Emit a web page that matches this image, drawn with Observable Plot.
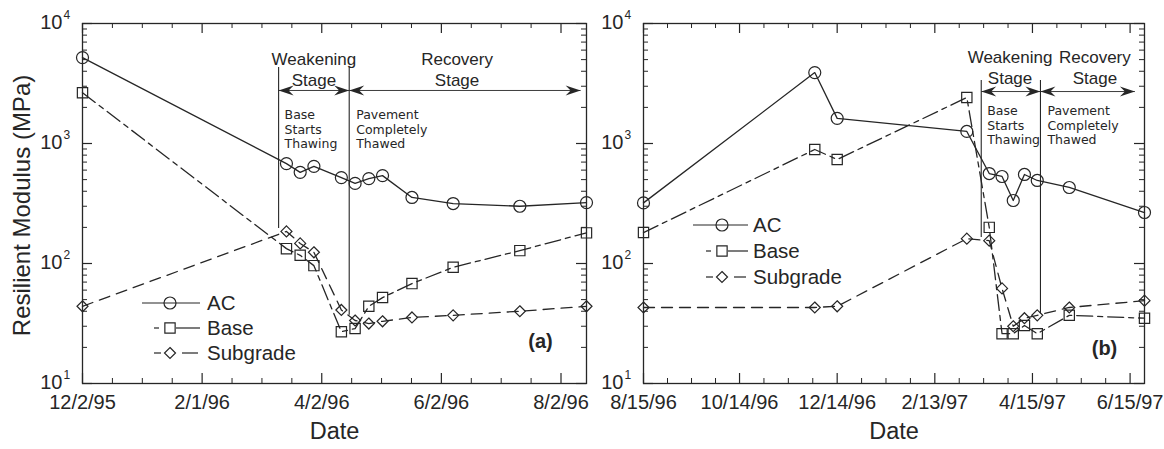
<!DOCTYPE html>
<html><head><meta charset="utf-8">
<script src="https://cdn.jsdelivr.net/npm/d3@7"></script>
<script src="https://cdn.jsdelivr.net/npm/@observablehq/plot@0.6"></script>
<style>
body{margin:0;background:#fff;}
#wrap{display:flex;width:1164px;height:449px;background:#fff;}
#wrap svg{overflow:visible;}
</style></head><body><div id="wrap"></div>
<script>
// ---------- data: panel (a) ----------
const datesA = ["1995-12-02","1996-03-15","1996-03-22","1996-03-29","1996-04-12","1996-04-19","1996-04-26","1996-05-03","1996-05-18","1996-06-08","1996-07-12","1996-08-15"];
const acA   = [5200, 680, 575, 645, 520, 465, 510, 540, 355, 316, 300, 322];
const baseA = [2650, 133, 117, 96, 27, 28.7, 44, 52, 68, 93, 128, 180];
const subA  = [44, 185, 147, 124, 41, 33.5, 31.6, 33, 35.5, 37, 40, 44];
const domainA = ["1995-12-02","1996-08-15"];
const xTicksA = ["12/2/95","2/1/96","4/2/96","6/2/96","8/2/96"];
const stageLinesA = [{date:"1996-03-11", y1:196, y2:4300},{date:"1996-04-16", y1:37, y2:4300}];
const arrowsA = [{from:"1996-03-11", to:"1996-04-16", v:2766},{from:"1996-04-16", to:"1996-08-12", v:2766}];
const stageTextA = [{date:"1996-03-29", t1:"Weakening", t2:"Stage"},{date:"1996-06-10", t1:"Recovery", t2:"Stage"}];

// ---------- data: panel (b) ----------
const datesB = ["1996-08-15","1996-11-30","1996-12-14","1997-03-05","1997-03-19","1997-03-27","1997-04-03","1997-04-10","1997-04-18","1997-05-08","1997-06-24"];
const acB   = [320, 3900, 1620, 1260, 562, 531, 335, 552, 492, 430, 266];
const baseB = [181, 891, 736, 2416, 200, 26, 26, 30.4, 26, 37, 35];
const subB  = [43, 43, 44, 161, 155, 62, 30, 35, 37, 43, 49];
const domainB = ["1996-08-15","1997-06-24"];
const xTicksB = ["8/15/96","10/14/96","12/14/96","2/13/97","4/15/97","6/15/97"];
const stageLinesB = [{date:"1997-03-14", y1:165, y2:3350},{date:"1997-04-20", y1:38, y2:3350}];
const arrowsB = [{from:"1997-03-14", to:"1997-04-20", v:2710},{from:"1997-04-20", to:"1997-06-18", v:2710}];
const stageTextB = [{date:"1997-04-01", t1:"Weakening", t2:"Stage"},{date:"1997-05-24", t1:"Recovery", t2:"Stage"}];

// ---------- shared ----------
const yDecades = [1, 2, 3, 4];
const seriesNames = ["AC", "Base", "Subgrade"];
const noteLeft = "Base\nStarts\nThawing";
const noteRight = "Pavement\nCompletely\nThawed";
const yTitle = "Resilient Modulus (MPa)";
const xTitle = "Date";

const INK = "#262626";
const FONT = "'Liberation Sans', Arial, Helvetica, sans-serif";
const parseTick = d3.utcParse("%m/%d/%y");
const parseISO = d => new Date(d + "T00:00:00Z");

const diamondSym = {draw(ctx, size){ const r = Math.sqrt(size/Math.PI); ctx.moveTo(0,-r); ctx.lineTo(r,0); ctx.lineTo(0,r); ctx.lineTo(-r,0); ctx.closePath(); }};
const headRight = {draw(ctx){ ctx.moveTo(0,0); ctx.lineTo(-15,-5); ctx.lineTo(-10,0); ctx.lineTo(-15,5); ctx.closePath(); }};
const headLeft  = {draw(ctx){ ctx.moveTo(0,0); ctx.lineTo(15,-5); ctx.lineTo(10,0); ctx.lineTo(15,5); ctx.closePath(); }};

function minorTicks(majors, end) {
  const out = [];
  const step = (majors[1] - majors[0]) / 4;
  for (let i = 0; i < majors.length - 1; i++) {
    const a = +majors[i], b = +majors[i+1], s = (b - a) / 4;
    for (let k = 1; k < 4; k++) out.push(new Date(a + s * k));
  }
  let t = +majors[majors.length - 1] + step;
  while (t <= +end) { out.push(new Date(t)); t += step; }
  return out;
}

function panel(cfg) {
  const H = 449, mt = 23, mb = 66;
  const ih = H - mt - mb, iw = cfg.width - cfg.marginLeft - cfg.marginRight;
  const rows = vals => cfg.dates.map((d, i) => ({date: parseISO(d), v: vals[i]}));
  const majors = cfg.ticks.map(parseTick);
  const dom = cfg.domain.map(parseISO);
  const minors = minorTicks(majors, dom[1]);
  const yMaj = yDecades.map(d => 10 ** d);
  const yMin = [];
  for (let e = 1; e < 4; e++) for (let m = 2; m <= 9; m++) yMin.push(m * 10 ** e);
  const lineOpts = {x: "date", y: "v", stroke: INK, strokeWidth: 1.3};
  const marks = [
    Plot.frame({stroke: INK, strokeWidth: 1.3}),
    Plot.tickX(majors, {x: d => d, insetTop: ih - 10, stroke: INK, strokeWidth: 1.2}),
    Plot.tickX(minors, {x: d => d, insetTop: ih - 5, stroke: INK, strokeWidth: 1}),
    Plot.tickX(majors, {x: d => d, insetBottom: ih - 10, stroke: INK, strokeWidth: 1.2}),
    Plot.tickX(minors, {x: d => d, insetBottom: ih - 5, stroke: INK, strokeWidth: 1}),
    Plot.tickY(yMaj, {y: d => d, insetRight: iw - 10, stroke: INK, strokeWidth: 1.2}),
    Plot.tickY(yMin, {y: d => d, insetRight: iw - 5, stroke: INK, strokeWidth: 1}),
    Plot.tickY(yMaj, {y: d => d, insetLeft: iw - 10, stroke: INK, strokeWidth: 1.2}),
    Plot.tickY(yMin, {y: d => d, insetLeft: iw - 5, stroke: INK, strokeWidth: 1}),
    Plot.text(yDecades, {y: d => 10 ** d, text: () => "10", frameAnchor: "left", textAnchor: "end", dx: -20, dy: -1, fontSize: 20, fill: INK}),
    Plot.text(yDecades, {y: d => 10 ** d, text: d => String(d), frameAnchor: "left", textAnchor: "start", dx: -19, dy: -8, fontSize: 12, fill: INK}),
    Plot.text(cfg.ticks, {x: d => parseTick(d), text: d => d, frameAnchor: "bottom", dy: 25, fontSize: 20, fill: INK}),
    Plot.text([xTitle], {frameAnchor: "bottom", dy: 55, fontSize: 23.5, fill: INK}),
    Plot.ruleX(cfg.stageLines, {x: d => parseISO(d.date), y1: "y1", y2: "y2", stroke: INK, strokeWidth: 1.1}),
    Plot.link(cfg.arrows, {x1: d => parseISO(d.from), x2: d => parseISO(d.to), y1: "v", y2: "v", stroke: INK, strokeWidth: 0.9}),
    Plot.dot(cfg.arrows, {x: d => parseISO(d.to), y: "v", symbol: headRight, fill: INK, stroke: "none", r: 5}),
    Plot.dot(cfg.arrows, {x: d => parseISO(d.from), y: "v", symbol: headLeft, fill: INK, stroke: "none", r: 5}),
    Plot.text(cfg.stageText, {x: d => parseISO(d.date), text: "t1", frameAnchor: "top", dy: cfg.stageDy, fontSize: 17, fill: INK}),
    Plot.text(cfg.stageText, {x: d => parseISO(d.date), text: "t2", frameAnchor: "top", dy: cfg.stageDy + 21, fontSize: 17, fill: INK}),
    Plot.text([noteLeft], {x: () => parseISO(cfg.stageLines[0].date), frameAnchor: "top", dy: cfg.noteDy, dx: 6, textAnchor: "start", lineAnchor: "top", lineHeight: 1.16, fontSize: 12.5, fontFamily: "'DejaVu Sans', sans-serif", fill: INK}),
    Plot.text([noteRight], {x: () => parseISO(cfg.stageLines[1].date), frameAnchor: "top", dy: cfg.noteDy, dx: 7, textAnchor: "start", lineAnchor: "top", lineHeight: 1.16, fontSize: 12.5, fontFamily: "'DejaVu Sans', sans-serif", fill: INK}),
    Plot.line(rows(cfg.ac), {...lineOpts}),
    Plot.line(rows(cfg.base), {...lineOpts, strokeDasharray: "16,5,5,5"}),
    Plot.line(rows(cfg.sub), {...lineOpts, strokeDasharray: "11,7"}),
    Plot.dot(rows(cfg.ac), {x: "date", y: "v", r: 6, stroke: INK, strokeWidth: 1.2, fill: "none"}),
    Plot.dot(rows(cfg.base), {x: "date", y: "v", r: 5.8, symbol: "square", stroke: INK, strokeWidth: 1.2, fill: "none"}),
    Plot.dot(rows(cfg.sub), {x: "date", y: "v", r: 5.5, symbol: diamondSym, stroke: INK, strokeWidth: 1.2, fill: "none"}),
    Plot.text([cfg.tag], {frameAnchor: "bottom-right", textAnchor: "middle", dx: cfg.tagDx, dy: cfg.tagDy, fontSize: 20, fontWeight: "bold", fill: INK})
  ];
  if (cfg.showYTitle) marks.push(Plot.text([yTitle], {frameAnchor: "left", textAnchor: "middle", lineAnchor: "middle", rotate: -90, dx: -60, dy: 2, fontSize: 24, fill: INK}));
  const svg = Plot.plot({
    width: cfg.width, height: H,
    marginLeft: cfg.marginLeft, marginRight: cfg.marginRight, marginTop: mt, marginBottom: mb,
    style: {fontFamily: FONT, background: "transparent", color: INK, overflow: "visible"},
    x: {type: "utc", domain: dom, axis: null},
    y: {type: "log", domain: [10, 10000], axis: null},
    marks
  });
  const L = cfg.legend;
  const g = d3.select(svg).append("g").attr("stroke", INK).attr("fill", "none").attr("stroke-width", 1.2);
  seriesNames.forEach((name, i) => {
    const y = L.y + i * L.dy;
    if (i === 0) {
      g.append("line").attr("x1", L.x0).attr("x2", L.x1).attr("y1", y).attr("y2", y);
      g.append("circle").attr("cx", L.xm).attr("cy", y).attr("r", 6);
    } else if (i === 1) {
      g.append("line").attr("x1", L.xm - 16).attr("x2", L.xm - 11).attr("y1", y).attr("y2", y);
      g.append("line").attr("x1", L.xm + 6).attr("x2", L.x1).attr("y1", y).attr("y2", y);
      g.append("path").attr("transform", `translate(${L.xm},${y})`).attr("d", d3.symbol(d3.symbolSquare, Math.PI * 5.8 * 5.8)());
    } else {
      g.append("line").attr("x1", L.xm - 16).attr("x2", L.xm - 9).attr("y1", y).attr("y2", y);
      g.append("line").attr("x1", L.xm + 12).attr("x2", L.x1 - 2).attr("y1", y).attr("y2", y);
      g.append("path").attr("transform", `translate(${L.xm},${y})`).attr("d", d3.symbol(diamondSym, Math.PI * 5.5 * 5.5)());
    }
    d3.select(svg).append("text").attr("x", L.xt).attr("y", y).attr("dy", "0.36em")
      .attr("text-anchor", "start").style("text-anchor", "start")
      .attr("font-size", 20.5).attr("fill", INK).attr("font-family", FONT).text(name);
  });
  return svg;
}

const wrap = document.getElementById("wrap");
wrap.appendChild(panel({
  width: 590, marginLeft: 82, marginRight: 4,
  dates: datesA, ac: acA, base: baseA, sub: subA, domain: domainA, ticks: xTicksA,
  stageLines: stageLinesA, arrows: arrowsA, stageText: stageTextA, stageDy: 29, noteDy: 85.5,
  tag: "(a)", tagDx: -46, tagDy: -36, showYTitle: true,
  legend: {x0: 142, x1: 200, xm: 170, xt: 207, y: 303, dy: 25}
}));
wrap.appendChild(panel({
  width: 574, marginLeft: 53, marginRight: 20,
  dates: datesB, ac: acB, base: baseB, sub: subB, domain: domainB, ticks: xTicksB,
  stageLines: stageLinesB, arrows: arrowsB, stageText: stageTextB, stageDy: 27, noteDy: 81.5,
  tag: "(b)", tagDx: -40, tagDy: -29, showYTitle: false,
  legend: {x0: 103, x1: 158, xm: 132, xt: 163, y: 225, dy: 26}
}));
</script></body></html>
